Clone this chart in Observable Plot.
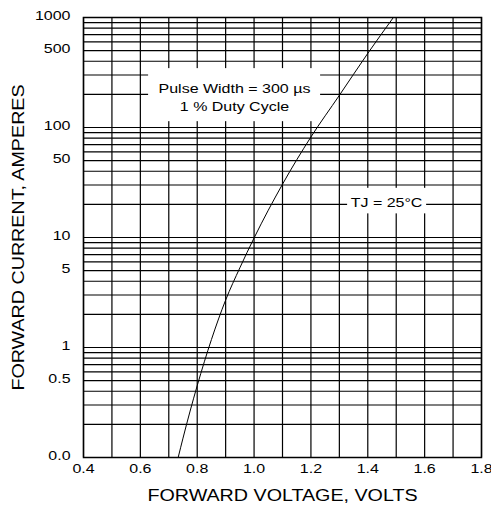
<!DOCTYPE html>
<html><head><meta charset="utf-8">
<script src="https://cdn.jsdelivr.net/npm/d3@7"></script>
<script src="https://cdn.jsdelivr.net/npm/@observablehq/plot@0.6"></script>
<style>body{margin:0;background:#fff}</style>
</head><body><div id="chart"></div>
<script>
// Forward characteristic
const voltage = [0.733, 0.75, 0.8, 0.85, 0.9, 0.95, 1.0, 1.1, 1.2, 1.3, 1.4, 1.49];
const current = [0.1, 0.15, 0.45, 1.18, 2.7, 5.3, 9.9, 30.5, 82, 196, 472, 1000];

// Axis ticks and grid
const xTicks = [0.4, 0.6, 0.8, 1.0, 1.2, 1.4, 1.6, 1.8];
const xGrid = [0.4, 0.5, 0.6, 0.7, 0.8, 0.9, 1.0, 1.1, 1.2, 1.3, 1.4, 1.5, 1.6, 1.7, 1.8];
const yTicks = [0.1, 0.5, 1, 5, 10, 50, 100, 500, 1000];
const yTickLabels = ["0.0", "0.5", "1", "5", "10", "50", "100", "500", "1000"];
const decades = [0.1, 1, 10, 100];
const multipliers = [1, 2, 3, 4, 5, 6, 7, 8, 9];
const yGrid = decades.flatMap(d => multipliers.map(m => +(d * m).toPrecision(3))).concat([1000]);

// Annotations
const noteTexts = ["Pulse Width = 300 µs\n1 % Duty Cycle", "TJ = 25°C"];
const noteX = [0.931, 1.466];
const noteY = [191, 21.2];
const boxX1 = [0.629, 1.329], boxX2 = [1.234, 1.607];
const boxY1 = [113, 16.4], boxY2 = [343, 28];

const xTitle = "FORWARD VOLTAGE, VOLTS";
const yTitle = "FORWARD CURRENT, AMPERES";

const curveData = voltage.map((v, i) => ({v, i: current[i]}));
const notes = noteTexts.map((t, k) => ({text: t, x: noteX[k], y: noteY[k], x1: boxX1[k], x2: boxX2[k], y1: boxY1[k], y2: boxY2[k]}));
const yLabelData = yTicks.map((v, k) => ({v, label: yTickLabels[k]}));

const plot = Plot.plot({
  width: 491, height: 513,
  marginLeft: 83, marginRight: 10, marginTop: 17, marginBottom: 56,
  style: {fontFamily: "'Liberation Sans', Arial, sans-serif", fontSize: "13px", color: "#000", background: "#fff"},
  x: {domain: [0.4, 1.8]},
  y: {type: "log", domain: [0.1, 1000], axis: null},
  marks: [
    Plot.ruleX(xGrid, {stroke: "#000", strokeWidth: 1.2}),
    Plot.ruleY(yGrid, {stroke: "#000", strokeWidth: 1.2}),
    Plot.rect(notes, {x1: "x1", x2: "x2", y1: "y1", y2: "y2", fill: "white"}),
    Plot.text(notes, {x: "x", y: "y", text: "text", fontSize: 13, lineHeight: 1.38, fill: "#000"}),
    Plot.line(curveData, {x: "v", y: "i", curve: "monotone-x", stroke: "#000", strokeWidth: 1}),
    Plot.frame({stroke: "#000", strokeWidth: 1.5}),
    Plot.axisX({ticks: xTicks, tickSize: 0, tickPadding: 6, tickFormat: d => d.toFixed(1), label: null, fontSize: 13}),
    Plot.text(yLabelData, {y: "v", text: "label", frameAnchor: "left", textAnchor: "end", dx: -13, dy: -2, fontSize: 13, fill: "#000"}),
    Plot.text([xTitle], {text: d => d, frameAnchor: "bottom", dy: 43, fontSize: 16, fill: "#000"}),
    Plot.text([yTitle], {text: d => d, frameAnchor: "left", dx: -65, rotate: -90, fontSize: 16, fill: "#000"})
  ]
});
document.getElementById("chart").append(plot);

// Reference text is drawn horizontally wide; stretch glyphs to match
const stretch = 1.23;
plot.querySelectorAll("text").forEach(t => {
  const tspans = t.querySelectorAll("tspan");
  const targets = tspans.length ? Array.from(tspans) : [t];
  targets.forEach(el => {
    const L = el.getComputedTextLength();
    if (L > 0) {
      const S = L * stretch;
      el.setAttribute("textLength", S.toFixed(1));
      el.setAttribute("lengthAdjust", "spacingAndGlyphs");
      if (el.textContent === yTitle) {
        el.setAttribute("text-anchor", "start");
        el.setAttribute("x", (-S / 2).toFixed(1));
      }
    }
  });
});
</script>
</body></html>
